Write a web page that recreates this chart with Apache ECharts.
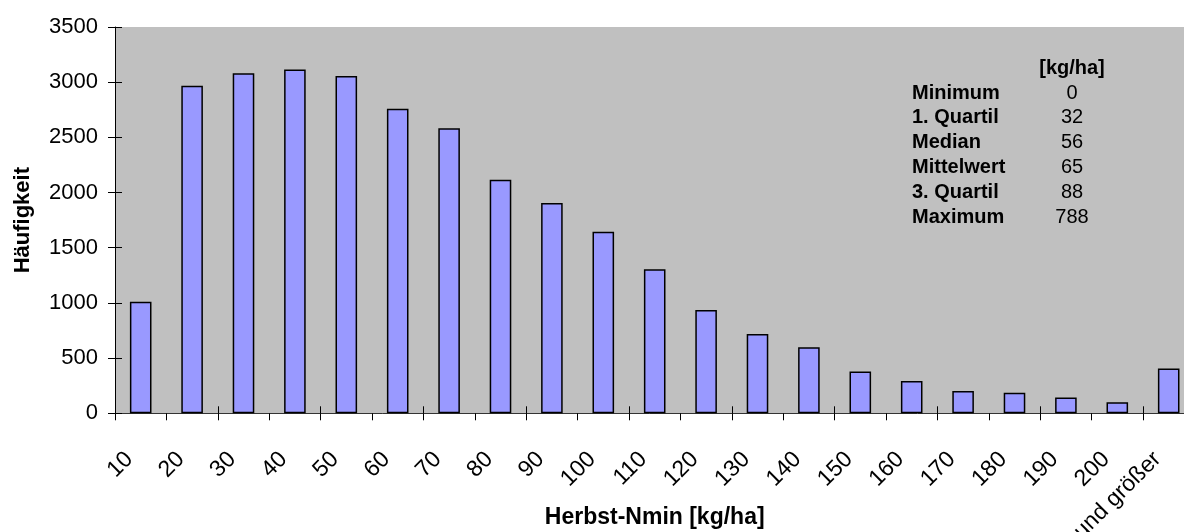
<!DOCTYPE html>
<html>
<head>
<meta charset="utf-8">
<script src="https://cdn.jsdelivr.net/npm/echarts@6/dist/echarts.min.js"></script>
<style>
html,body{margin:0;padding:0;background:#fff;}
#c{width:1184px;height:532px;}
</style>
</head>
<body>
<div id="c"></div>
<script>
const categories = ['10','20','30','40','50','60','70','80','90','100','110','120','130','140','150','160','170','180','190','200','und größer'];
const counts = [1010, 2967, 3082, 3115, 3055, 2760, 2583, 2116, 1905, 1646, 1306, 936, 719, 599, 379, 292, 201, 186, 144, 100, 406];
const yTicks = [0, 500, 1000, 1500, 2000, 2500, 3000, 3500];
const statNames = ['Minimum', '1. Quartil', 'Median', 'Mittelwert', '3. Quartil', 'Maximum'];
const statValues = ['0', '32', '56', '65', '88', '788'];
const statUnit = '[kg/ha]';

const FONT = '"Liberation Sans", Arial, sans-serif';
const chart = echarts.init(document.getElementById('c'), null, {renderer: 'canvas'});

const yMin = yTicks[0], yMax = yTicks[yTicks.length - 1], yStep = yTicks[1] - yTicks[0];

// stats table as text graphics
const graphics = [];
const rowTop = 93, rowStep = 24.8, nameX = 912, valX = 1072;
graphics.push({type: 'text', x: valX, y: rowTop - rowStep, style: {text: statUnit, font: 'bold 20px ' + FONT, fill: '#000', textVerticalAlign: 'middle', textAlign: 'center'}, z: 10});
statNames.forEach((n, i) => {
  graphics.push({type: 'text', x: nameX, y: rowTop + i * rowStep, style: {text: n, font: 'bold 20px ' + FONT, fill: '#000', textVerticalAlign: 'middle', textAlign: 'left'}, z: 10});
  graphics.push({type: 'text', x: valX, y: rowTop + i * rowStep, style: {text: statValues[i], font: '20px ' + FONT, fill: '#000', textVerticalAlign: 'middle', textAlign: 'center'}, z: 10});
});

chart.setOption({
  animation: false,
  backgroundColor: '#ffffff',
  textStyle: {fontFamily: FONT},
  grid: {left: 115, top: 27, width: 1079.4, height: 386.3, show: true, backgroundColor: '#C0C0C0', borderWidth: 0, containLabel: false, outerBoundsMode: 'none'},
  xAxis: [{
    type: 'category',
    data: categories,
    position: 'bottom',
    boundaryGap: true,
    name: 'Herbst-Nmin [kg/ha]',
    nameLocation: 'middle',
    nameGap: 93,
    nameMoveOverlap: false,
    nameTextStyle: {fontFamily: FONT, fontSize: 23, fontWeight: 'bold', color: '#000'},
    axisLine: {show: true, lineStyle: {color: '#333', width: 1}},
    axisTick: {show: true, inside: false, length: 7, lineStyle: {color: '#000', width: 1}},
    axisLabel: {show: true, interval: 0, rotate: 45, margin: 31, padding: [0, 16, 0, 0], fontFamily: FONT, fontSize: 23, color: '#000'},
    splitLine: {show: false}
  }, {
    type: 'category',
    data: categories,
    position: 'bottom',
    boundaryGap: true,
    axisLine: {show: false},
    axisTick: {show: true, inside: true, length: 7, lineStyle: {color: '#000', width: 1}},
    axisLabel: {show: false},
    splitLine: {show: false}
  }],
  yAxis: [{
    type: 'value',
    position: 'left',
    min: yMin, max: yMax, interval: yStep,
    name: 'Häufigkeit',
    nameLocation: 'middle',
    nameGap: 81,
    nameMoveOverlap: false,
    nameTextStyle: {fontFamily: FONT, fontSize: 22, fontWeight: 'bold', color: '#000'},
    axisLine: {show: true, lineStyle: {color: '#000', width: 1}},
    axisTick: {show: true, inside: false, length: 7, lineStyle: {color: '#000', width: 1}},
    axisLabel: {show: true, margin: 17, fontFamily: FONT, fontSize: 22, color: '#000', formatter: (v) => String(v)},
    splitLine: {show: false}
  }, {
    type: 'value',
    position: 'left',
    min: yMin, max: yMax, interval: yStep,
    axisLine: {show: false},
    axisTick: {show: true, inside: true, length: 7, lineStyle: {color: '#000', width: 1}},
    axisLabel: {show: false},
    splitLine: {show: false}
  }],
  series: [{
    type: 'bar',
    xAxisIndex: 0,
    yAxisIndex: 0,
    data: counts,
    barWidth: '42%',
    itemStyle: {color: '#9999FF', borderColor: '#000', borderWidth: 1.5},
    silent: true
  }],
  graphic: graphics
});
</script>
</body>
</html>
